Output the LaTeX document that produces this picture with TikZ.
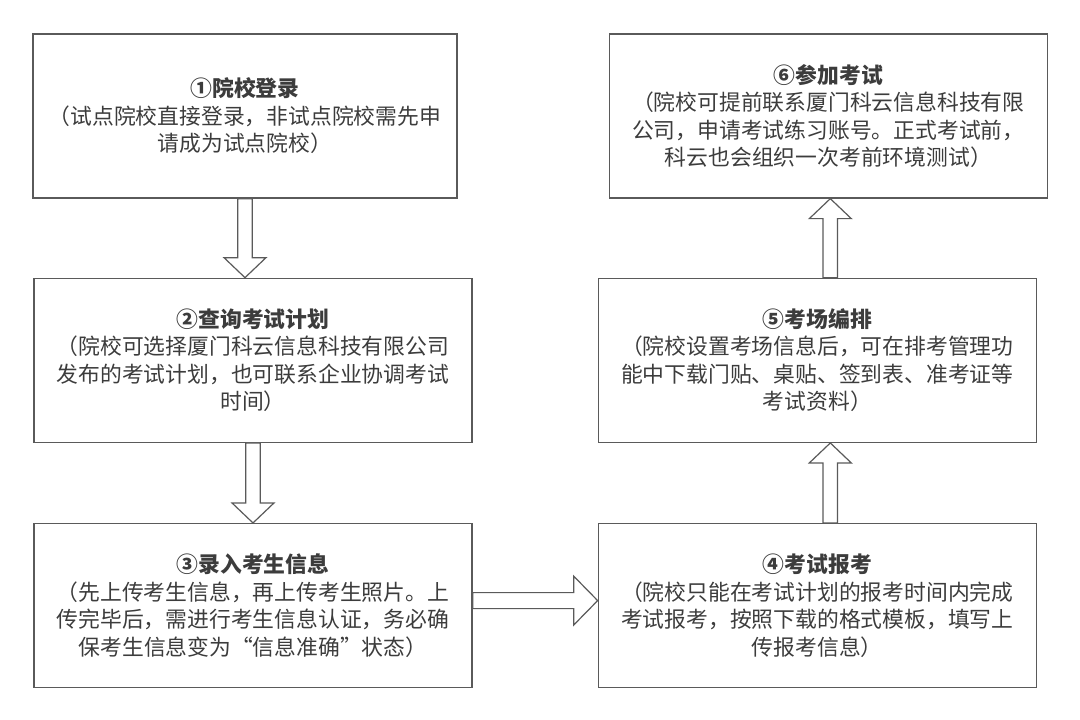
\documentclass[tikz,border=0pt]{standalone}
\usepackage{fontspec}
\setmainfont{Noto Sans CJK SC}
\usepackage{xcolor}
\usetikzlibrary{positioning,calc}
\definecolor{boxgray}{HTML}{5A5A5A}
\definecolor{textgray}{HTML}{3C3C3C}
\tikzset{
  stepbox/.style={draw=boxgray, line width=1.3pt, minimum width=438pt, minimum height=164pt,
    inner sep=0pt, align=center, text=textgray, font=\fontsize{21.8}{27.5}\selectfont},
  % 空心箭头（竖直）
  vfat/.style={draw=boxgray, line width=1.2pt, fill=white, to path={
    ($(\tikztostart)!7.25pt!90:(\tikztotarget)$)
    -- ($(\tikztotarget)!21.27pt!-19.92:(\tikztostart)$)
    -- ($(\tikztotarget)!29pt!-46.4:(\tikztostart)$)
    -- (\tikztotarget)
    -- ($(\tikztotarget)!29pt!46.4:(\tikztostart)$)
    -- ($(\tikztotarget)!21.27pt!19.92:(\tikztostart)$)
    -- ($(\tikztostart)!7.25pt!-90:(\tikztotarget)$) -- cycle}},
  % 空心箭头（水平）
  hfat/.style={draw=boxgray, line width=1.2pt, fill=white, to path={
    ($(\tikztostart)!8pt!90:(\tikztotarget)$)
    -- ($(\tikztotarget)!25.3pt!-18.43:(\tikztostart)$)
    -- ($(\tikztotarget)!34.3pt!-45.59:(\tikztostart)$)
    -- (\tikztotarget)
    -- ($(\tikztotarget)!34.3pt!45.59:(\tikztostart)$)
    -- ($(\tikztotarget)!25.3pt!18.43:(\tikztostart)$)
    -- ($(\tikztostart)!8pt!-90:(\tikztotarget)$) -- cycle}},
}
\begin{document}
\begin{tikzpicture}[x=1pt, y=-1pt]
    \useasboundingbox (0,0) rectangle (1080,720);
    % 左列
    \node[stepbox, minimum width=424pt] (login) at (245,116)
      {\textbf{①院校登录}\\（试点院校直接登录，非试点院校需先申\\请成为试点院校）};
    \node[stepbox] (plan) [below=79pt of login, xshift=8pt]
      {\textbf{②查询考试计划}\\（院校可选择厦门科云信息科技有限公司\\发布的考试计划，也可联系企业协调考试\\时间）};
    \node[stepbox] (entry) [below=80pt of plan]
      {\textbf{③录入考生信息}\\（先上传考生信息，再上传考生照片。上\\传完毕后，需进行考生信息认证，务必确\\保考生信息变为“信息准确”状态）};
    % 右列
    \node[stepbox] (signup) [right=125pt of entry]
      {\textbf{④考试报考}\\（院校只能在考试计划的报考时间内完成\\考试报考，按照下载的格式模板，填写上\\传报考信息）};
    \node[stepbox] (room) [above=80pt of signup]
      {\textbf{⑤考场编排}\\（院校设置考场信息后，可在排考管理功\\能中下载门贴、桌贴、签到表、准考证等\\考试资料）};
    \node[stepbox] (exam) [above=79pt of room, xshift=11pt]
      {\textbf{⑥参加考试}\\（院校可提前联系厦门科云信息科技有限\\公司，申请考试练习账号。正式考试前，\\科云也会组织一次考前环境测试）};
    \coordinate (rcol) at ([xshift=2pt]exam.south);

    % 连线
    \draw[vfat] (login.south) to (login.south |- plan.north);
    \draw[vfat] (plan.south) to (entry.north);
    \draw[hfat] ([yshift=5pt]entry.east) to ([yshift=5pt]signup.west);
    \draw[vfat] (rcol |- signup.north) to (rcol |- room.south);
    \draw[vfat] (rcol |- room.north) to (rcol |- exam.south);
\end{tikzpicture}
\end{document}
